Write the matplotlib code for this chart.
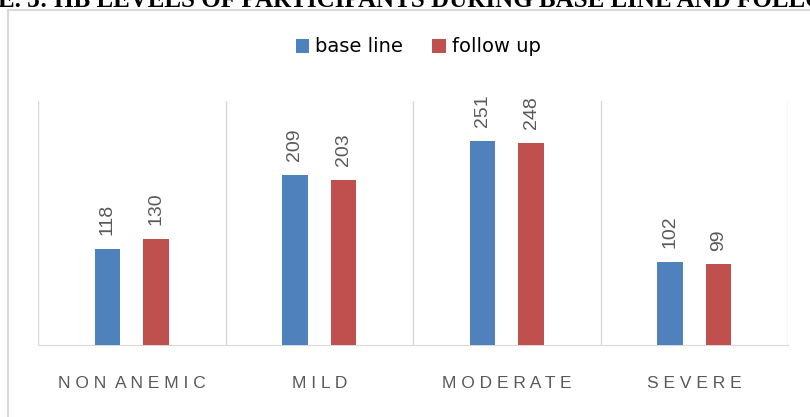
import numpy as np
import matplotlib.pyplot as plt
from matplotlib.patches import Rectangle

categories = ["NON ANEMIC", "MILD", "MODERATE", "SEVERE"]
base_line = [118, 209, 251, 102]
follow_up = [130, 203, 248, 99]
series_names = ["base line", "follow up"]
colors = ["#4F81BD", "#C0504D"]
title = "E. 3: HB LEVELS OF PARTICIPANTS DURING BASE LINE AND FOLLOW UP"


def spaced(label):
    # excel style letter spacing on the category labels
    return "  ".join(" ".join(word) for word in label.split())


fig = plt.figure(figsize=(8.10, 4.17), dpi=100)

# outer chart frame (cut by the image edges)
fig.patches.append(Rectangle((8 / 810, -0.1), 1.2, 1 - 10 / 417 + 0.1,
                             transform=fig.transFigure, fill=False,
                             edgecolor="#d9d9d9", linewidth=1.5))

# cropped caption at the very top
fig.text(-0.002, 1 - 7 / 417, title, ha="left", va="baseline",
         family="Liberation Serif", weight="bold", fontsize=18, color="black")

ax = fig.add_axes([38 / 810, 1 - 345 / 417, 750 / 810, 244 / 417])
x = np.arange(len(categories))
w = 0.137
off = 0.13
for i, (vals, name, c) in enumerate(zip([base_line, follow_up], series_names, colors)):
    pos = x + (-off if i == 0 else off)
    bars = ax.bar(pos, vals, width=w, color=c, label=name, zorder=3)
    for b, v in zip(bars, vals):
        ax.annotate(str(v), (b.get_x() + b.get_width() / 2, v), xytext=(0, 10),
                    textcoords="offset points", rotation=90, ha="center", va="bottom",
                    fontsize=14, color="#595959", family="Liberation Sans")

ax.set_xlim(-0.5, len(categories) - 0.5)
ax.set_ylim(0, 300)
for b in np.arange(-0.5, len(categories), 1.0):
    ax.axvline(b, color="#d9d9d9", linewidth=1, zorder=1)
for s in ["left", "right", "top"]:
    ax.spines[s].set_visible(False)
ax.spines["bottom"].set_color("#d9d9d9")
ax.set_yticks([])
ax.set_xticks(x)
ax.set_xticklabels([spaced(c) for c in categories], fontsize=12.5,
                   color="#595959", family="Liberation Sans")
ax.tick_params(axis="x", length=0, pad=22)

ax.legend(loc="center", bbox_to_anchor=(418 / 810, 1 - 47 / 417), bbox_transform=fig.transFigure,
          ncol=2, frameon=False, handlelength=0.7, handleheight=0.7, handletextpad=0.3,
          columnspacing=1.5, prop={"family": "DejaVu Sans", "size": 14})

fig.savefig("out.png", dpi=100)
